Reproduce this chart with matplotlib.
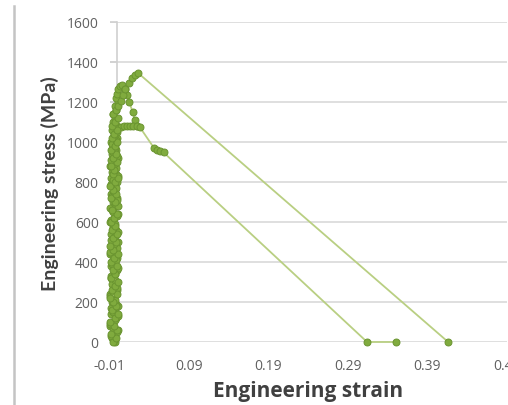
import matplotlib.pyplot as plt
from matplotlib.lines import Line2D

# Sample A: highest peak (~1345 MPa), unloads to ~0.416
strain_a = [-0.0060, -0.0020, -0.0085, 0.0000, -0.0045, -0.0095, -0.0030, 0.0010, -0.0070, -0.0015,
            -0.0050, -0.0090, -0.0005, -0.0065, -0.0035, 0.0005, -0.0080, -0.0025, -0.0055, -0.0010,
            -0.0075, -0.0040, 0.0010, -0.0060, -0.0090, -0.0020, -0.0050, 0.0000, -0.0070, -0.0030,
            -0.0085, -0.0045, -0.0010, -0.0065, 0.0005, -0.0035, -0.0080, -0.0015, -0.0055, -0.0095,
            -0.0025, 0.0010, -0.0060, -0.0040, -0.0075, -0.0005, -0.0050, -0.0020, -0.0085, -0.0030,
            0.0000, -0.0065, -0.0045, -0.0010, -0.0070, -0.0025, 0.0005, -0.0055, -0.0015, 0.0010,
            0.0040, 0.0070, 0.0100, 0.0140, 0.0180, 0.0220, 0.0260, 0.4160]
stress_a = [0, 20, 40, 60, 80, 100, 120, 140, 160, 180,
            200, 220, 240, 260, 280, 300, 320, 340, 360, 380,
            400, 420, 440, 460, 480, 500, 520, 540, 560, 580,
            600, 620, 640, 660, 680, 700, 720, 740, 760, 780,
            800, 820, 840, 860, 880, 900, 920, 940, 960, 980,
            1000, 1020, 1040, 1060, 1080, 1100, 1120, 1140, 1160, 1180,
            1205, 1235, 1265, 1295, 1320, 1337, 1345, 0]

# Sample B: plateau at ~1080 MPa, ends at ~0.314 / 0.351
strain_b = [-0.0040, -0.0080, -0.0010, -0.0060, -0.0095, -0.0025, 0.0005, -0.0050, -0.0075, -0.0015,
            -0.0035, -0.0090, -0.0055, 0.0000, -0.0070, -0.0030, -0.0085, -0.0045, 0.0010, -0.0065,
            -0.0020, -0.0050, -0.0090, -0.0005, -0.0040, -0.0075, -0.0025, 0.0005, -0.0060, -0.0035,
            -0.0080, -0.0010, -0.0055, -0.0095, -0.0030, 0.0000, -0.0070, -0.0045, -0.0015, -0.0085,
            -0.0050, 0.0010, -0.0065, -0.0020, -0.0040, -0.0080, -0.0005, -0.0060, -0.0030, -0.0070,
            -0.0015, -0.0045, -0.0010,
            0.0040, 0.0080, 0.0120, 0.0160, 0.0200, 0.0240, 0.0280,
            0.0460, 0.0500, 0.0540, 0.0580, 0.3140, 0.3510]
stress_b = [10, 30, 50, 70, 90, 110, 130, 150, 170, 190,
            210, 230, 250, 270, 290, 310, 330, 350, 370, 390,
            410, 430, 450, 470, 490, 510, 530, 550, 570, 590,
            610, 630, 650, 670, 690, 710, 730, 750, 770, 790,
            810, 830, 850, 870, 890, 910, 930, 950, 970, 990,
            1010, 1030, 1050,
            1076, 1078, 1080, 1080, 1080, 1078, 1075,
            970, 962, 955, 948, 0, 0]

# Sample C: peak ~1285 MPa, drops back to the plateau level
strain_c = [-0.0025, -0.0070, -0.0040, 0.0005, -0.0090, -0.0055, -0.0015, -0.0080, -0.0030, 0.0010,
            -0.0065, -0.0045, -0.0095, -0.0005, -0.0060, -0.0020, -0.0085, -0.0035, 0.0000, -0.0075,
            -0.0050, -0.0010, -0.0090, -0.0030, -0.0065, 0.0005, -0.0045, -0.0080, -0.0020, -0.0055,
            -0.0095, -0.0040, 0.0010, -0.0070, -0.0025, -0.0060, -0.0005, -0.0085, -0.0035, -0.0050,
            0.0000, -0.0075, -0.0015, -0.0045, -0.0090, -0.0030, 0.0005, -0.0065, -0.0020, -0.0055,
            -0.0080, -0.0010, -0.0040, -0.0070, 0.0000, -0.0050, -0.0025, -0.0060, -0.0015, -0.0035,
            0.0005, -0.0020, -0.0005,
            0.0010, 0.0035, 0.0060, 0.0090, 0.0120, 0.0150, 0.0190, 0.0220, 0.0250]
stress_c = [0, 20, 40, 60, 80, 100, 120, 140, 160, 180,
            200, 220, 240, 260, 280, 300, 320, 340, 360, 380,
            400, 420, 440, 460, 480, 500, 520, 540, 560, 580,
            600, 620, 640, 660, 680, 700, 720, 740, 760, 780,
            800, 820, 840, 860, 880, 900, 920, 940, 960, 980,
            1000, 1020, 1040, 1060, 1080, 1100, 1120, 1140, 1160, 1180,
            1200, 1220, 1240,
            1265, 1280, 1285, 1265, 1235, 1200, 1150, 1110, 1080]

x_ticks = [-0.01, 0.09, 0.19, 0.29, 0.39, 0.49]
x_labels = ['-0.01', '0.09', '0.19', '0.29', '0.39', '0.49']
y_ticks = [0, 200, 400, 600, 800, 1000, 1200, 1400, 1600]

line_col = '#b9cf82'
mark_face = '#80ab3e'
mark_edge = '#6a9430'

fig = plt.figure(figsize=(5.08, 4.05), dpi=100)
ax = fig.add_axes([109.5 / 508, 1 - 342 / 405, 397.5 / 508, 320 / 405])

for xs, ys in [(strain_c, stress_c), (strain_b, stress_b), (strain_a, stress_a)]:
    ax.plot(xs, ys, color=line_col, lw=1.3, marker='o', ms=5,
            mfc=mark_face, mec=mark_edge, mew=0.7, zorder=3, clip_on=False)

ax.set_xlim(-0.01, 0.49)
ax.set_ylim(0, 1600)
ax.set_xticks(x_ticks)
ax.set_xticklabels(x_labels)
ax.set_yticks(y_ticks)
ax.grid(axis='y', color='#d9d9d9', lw=1.2)
ax.set_axisbelow(True)
for s in ['top', 'right', 'bottom']:
    ax.spines[s].set_visible(False)
ax.spines['left'].set_position(('data', 0))
ax.spines['left'].set_color('#d0d0d0')
ax.spines['left'].set_linewidth(1.2)
ax.tick_params(axis='y', length=5, color='#d0d0d0', width=1.2, pad=8.5,
               labelsize=10, labelcolor='#606060')
ax.tick_params(axis='x', length=0, pad=12, labelsize=10, labelcolor='#606060')
for lab in ax.get_xticklabels() + ax.get_yticklabels():
    lab.set_family('Open Sans')

ax.set_xlabel('Engineering strain', fontsize=15, fontweight='bold',
              family='Open Sans', color='#404040')
ax.xaxis.set_label_coords(0.499, -0.122)
ax.set_ylabel('Engineering stress (MPa)', fontsize=14, fontweight='bold',
              family='Lato', color='#404040')
ax.yaxis.set_label_coords(-0.128, 0.494)

# stray frame edge at the left of the screenshot
fig.add_artist(Line2D([14 / 508, 14 / 508], [0, 1 - 6 / 405], color='#c4c4c4', lw=1.8))

fig.savefig('out.png', dpi=100)
